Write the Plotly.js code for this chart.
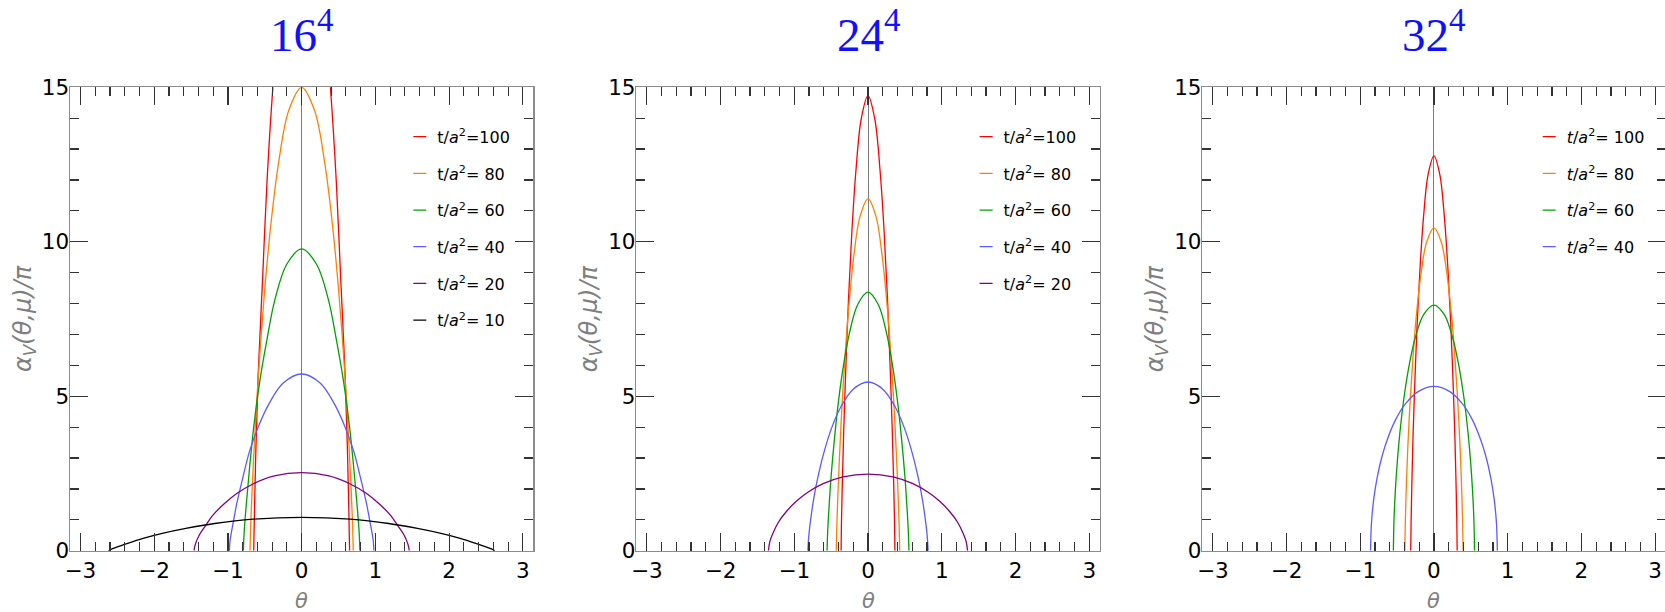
<!DOCTYPE html>
<html>
<head>
<meta charset="utf-8">
<script src="https://cdn.plot.ly/plotly-3.0.1.min.js"></script>
<style>
  html, body { margin: 0; padding: 0; overflow: hidden; background: #ffffff; }
  #chart { width: 1670px; height: 612px; }
</style>
</head>
<body>
<div id="chart"></div>
<script>
// Panel titles (lattice volumes)
const panelTitles = ['16<sup>4</sup>', '24<sup>4</sup>', '32<sup>4</sup>'];

// Flow times shown in each panel
const flowTimes16 = [100, 80, 60, 40, 20, 10];
const flowTimes24 = [100, 80, 60, 40, 20];
const flowTimes32 = [100, 80, 60, 40];

// Curve colours by flow time
const flowColors = { 100: '#ff0000', 80: '#ff8000', 60: '#00a000', 40: '#5b5bff', 20: '#800080', 10: '#000000' };

// ---- 16^4 ----
const theta16_t100 = [-0.65,-0.64,-0.62,-0.59,-0.53,-0.47,-0.39,-0.29,-0.16,0,0.16,0.29,0.39,0.47,0.53,0.59,0.62,0.64,0.65];
const alpha16_t100 = [0,1.29,3.33,5.68,8.78,11.94,15.0,17.88,20.35,21.43,20.35,17.88,15.0,11.94,8.78,5.68,3.33,1.29,0];
const theta16_t80 = [-0.70,-0.69,-0.665,-0.63,-0.574,-0.504,-0.42,-0.315,-0.175,0,0.175,0.315,0.42,0.504,0.574,0.63,0.665,0.69,0.70];
const alpha16_t80 = [0,0.90,2.33,3.97,6.14,8.36,10.50,12.52,14.25,15.0,14.25,12.52,10.50,8.36,6.14,3.97,2.33,0.90,0];
const theta16_t60 = [-0.79,-0.78,-0.75,-0.71,-0.65,-0.57,-0.47,-0.36,-0.20,0,0.20,0.36,0.47,0.57,0.65,0.71,0.75,0.78,0.79];
const alpha16_t60 = [0,0.59,1.52,2.59,4.00,5.45,6.84,8.15,9.28,9.77,9.28,8.15,6.84,5.45,4.00,2.59,1.52,0.59,0];
const theta16_t40 = [-0.98,-0.97,-0.93,-0.88,-0.80,-0.71,-0.59,-0.44,-0.25,0,0.25,0.44,0.59,0.71,0.80,0.88,0.93,0.97,0.98];
const alpha16_t40 = [0,0.34,0.89,1.52,2.34,3.19,4.00,4.77,5.43,5.72,5.43,4.77,4.00,3.19,2.34,1.52,0.89,0.34,0];
const theta16_t20 = [-1.46,-1.44,-1.39,-1.31,-1.20,-1.05,-0.88,-0.66,-0.37,0,0.37,0.66,0.88,1.05,1.20,1.31,1.39,1.44,1.46];
const alpha16_t20 = [0,0.22,0.50,0.79,1.16,1.52,1.85,2.16,2.42,2.53,2.42,2.16,1.85,1.52,1.16,0.79,0.50,0.22,0];
const theta16_t10 = [-2.62,-2.58,-2.49,-2.36,-2.15,-1.89,-1.57,-1.18,-0.66,0,0.66,1.18,1.57,1.89,2.15,2.36,2.49,2.58,2.62];
const alpha16_t10 = [0,0.05,0.13,0.24,0.40,0.56,0.72,0.88,1.02,1.08,1.02,0.88,0.72,0.56,0.40,0.24,0.13,0.05,0];

// ---- 24^4 ----
const theta24_t100 = [-0.365,-0.36,-0.347,-0.329,-0.299,-0.263,-0.219,-0.164,-0.091,0,0.091,0.164,0.219,0.263,0.299,0.329,0.347,0.36,0.365];
const alpha24_t100 = [0,0.89,2.29,3.90,6.03,8.21,10.31,12.29,13.99,14.73,13.99,12.29,10.31,8.21,6.03,3.90,2.29,0.89,0];
const theta24_t80 = [-0.43,-0.424,-0.409,-0.387,-0.353,-0.31,-0.258,-0.194,-0.108,0,0.108,0.194,0.258,0.31,0.353,0.387,0.409,0.424,0.43];
const alpha24_t80 = [0,0.69,1.77,3.02,4.66,6.35,7.97,9.50,10.82,11.39,10.82,9.50,7.97,6.35,4.66,3.02,1.77,0.69,0];
const theta24_t60 = [-0.555,-0.547,-0.527,-0.50,-0.455,-0.40,-0.333,-0.25,-0.139,0,0.139,0.25,0.333,0.40,0.455,0.50,0.527,0.547,0.555];
const alpha24_t60 = [0,0.60,1.46,2.41,3.62,4.84,5.99,7.06,7.97,8.37,7.97,7.06,5.99,4.84,3.62,2.41,1.46,0.60,0];
const theta24_t40 = [-0.815,-0.803,-0.774,-0.734,-0.668,-0.587,-0.489,-0.367,-0.204,0,0.204,0.367,0.489,0.587,0.668,0.734,0.774,0.803,0.815];
const alpha24_t40 = [0,0.47,1.07,1.71,2.50,3.27,4.00,4.66,5.22,5.46,5.22,4.66,4.00,3.27,2.50,1.71,1.07,0.47,0];
const theta24_t20 = [-1.35,-1.33,-1.28,-1.215,-1.107,-0.972,-0.81,-0.608,-0.338,0,0.338,0.608,0.81,0.972,1.107,1.215,1.28,1.33,1.35];
const alpha24_t20 = [0,0.30,0.61,0.92,1.27,1.60,1.90,2.17,2.39,2.48,2.39,2.17,1.90,1.60,1.27,0.92,0.61,0.30,0];

// ---- 32^4 ----
const theta32_t100 = [-0.315,-0.31,-0.299,-0.284,-0.258,-0.227,-0.189,-0.142,-0.079,0,0.079,0.142,0.189,0.227,0.258,0.284,0.299,0.31,0.315];
const alpha32_t100 = [0,0.92,2.23,3.68,5.53,7.39,9.14,10.78,12.18,12.78,12.18,10.78,9.14,7.39,5.53,3.68,2.23,0.92,0];
const theta32_t80 = [-0.395,-0.389,-0.375,-0.356,-0.324,-0.284,-0.237,-0.178,-0.099,0,0.099,0.178,0.237,0.284,0.324,0.356,0.375,0.389,0.395];
const alpha32_t80 = [0,0.89,2.05,3.27,4.79,6.27,7.65,8.92,9.99,10.45,9.99,8.92,7.65,6.27,4.79,3.27,2.05,0.89,0];
const theta32_t60 = [-0.55,-0.542,-0.523,-0.495,-0.451,-0.396,-0.33,-0.248,-0.138,0,0.138,0.248,0.33,0.396,0.451,0.495,0.523,0.542,0.55];
const alpha32_t60 = [0,0.97,1.97,2.94,4.07,5.13,6.08,6.94,7.65,7.95,7.65,6.94,6.08,5.13,4.07,2.94,1.97,0.97,0];
const theta32_t40 = [-0.86,-0.847,-0.817,-0.774,-0.705,-0.619,-0.516,-0.387,-0.215,0,0.215,0.387,0.516,0.619,0.705,0.774,0.817,0.847,0.86];
const alpha32_t40 = [0,0.92,1.66,2.32,3.05,3.69,4.26,4.75,5.15,5.32,5.15,4.75,4.26,3.69,3.05,2.32,1.66,0.92,0];

const panel16 = {
  100: [theta16_t100, alpha16_t100], 80: [theta16_t80, alpha16_t80], 60: [theta16_t60, alpha16_t60],
  40: [theta16_t40, alpha16_t40], 20: [theta16_t20, alpha16_t20], 10: [theta16_t10, alpha16_t10]
};
const panel24 = {
  100: [theta24_t100, alpha24_t100], 80: [theta24_t80, alpha24_t80], 60: [theta24_t60, alpha24_t60],
  40: [theta24_t40, alpha24_t40], 20: [theta24_t20, alpha24_t20]
};
const panel32 = {
  100: [theta32_t100, alpha32_t100], 80: [theta32_t80, alpha32_t80], 60: [theta32_t60, alpha32_t60],
  40: [theta32_t40, alpha32_t40]
};

function legendLabel(t, panelIdx) {
  if (panelIdx === 2) {
    return '<i>t</i>/<i>a</i><sup>2</sup>= ' + t;
  }
  const pad = t >= 100 ? '' : ' ';
  return 't/<i>a</i><sup>2</sup>=' + pad + t;
}

const panels = [
  { times: flowTimes16, curves: panel16 },
  { times: flowTimes24, curves: panel24 },
  { times: flowTimes32, curves: panel32 }
];

const traces = [];
panels.forEach((p, i) => {
  const sfx = i === 0 ? '' : String(i + 1);
  p.times.forEach(t => {
    const c = p.curves[t];
    traces.push({
      type: 'scatter', mode: 'lines',
      x: c[0], y: c[1],
      xaxis: 'x' + sfx, yaxis: 'y' + sfx,
      line: { color: flowColors[t], width: 1.3, shape: 'spline', smoothing: 1 },
      name: legendLabel(t, i),
      legend: 'legend' + sfx,
      legendgroup: 'p' + i + 't' + t,
      hoverinfo: 'skip'
    });
  });
});

const W = 1670, H = 612;
// plot-area pixel boxes
const boxes = [[70, 533.3], [636.3, 1099.7], [1202.3, 1665.6]];
const yTop = 87.3, yBot = 550.7;
const yDom = [1 - yBot / H, 1 - yTop / H];

const sansFont = 'DejaVu Sans, Verdana, sans-serif';
const tickFont = { family: sansFont, size: 21.5, color: '#000' };

function xAxis(i) {
  return {
    domain: [boxes[i][0] / W, boxes[i][1] / W],
    anchor: i === 0 ? 'y' : 'y' + (i + 1),
    range: [-Math.PI, Math.PI],
    tick0: 0, dtick: 1,
    ticks: 'inside', ticklen: 18, tickwidth: 1.2, tickcolor: '#333',
    minor: { dtick: 0.2, tick0: 0, ticks: 'inside', ticklen: 9, tickwidth: 1.2, tickcolor: '#333', showgrid: false },
    showline: true, linecolor: '#8c8c8c', linewidth: 1.5, mirror: 'ticks',
    showgrid: false, zeroline: true, zerolinecolor: '#7a7a7a', zerolinewidth: 1,
    tickfont: tickFont, fixedrange: true
  };
}
function yAxis(i) {
  return {
    domain: yDom,
    anchor: i === 0 ? 'x' : 'x' + (i + 1),
    range: [0, 15],
    tick0: 0, dtick: 5,
    ticks: 'inside', ticklen: 18, tickwidth: 1.2, tickcolor: '#333',
    minor: { dtick: 1, tick0: 0, ticks: 'inside', ticklen: 9, tickwidth: 1.2, tickcolor: '#333', showgrid: false },
    showline: true, linecolor: '#8c8c8c', linewidth: 1.5, mirror: 'ticks',
    showgrid: false, zeroline: false, ticklabelstandoff: -5,
    tickfont: tickFont, fixedrange: true
  };
}

function legendBox(px) {
  return {
    x: px / W, xanchor: 'left', xref: 'paper',
    y: 1 - 119.8 / H, yanchor: 'top', yref: 'paper',
    bgcolor: 'rgba(0,0,0,0)', borderwidth: 0,
    tracegroupgap: 12.87,
    font: { family: sansFont, size: 16, color: '#000' }
  };
}

const annotations = [];
boxes.forEach((b, i) => {
  const cx = (b[0] + b[1]) / 2;
  annotations.push({
    text: panelTitles[i], xref: 'paper', yref: 'paper',
    x: cx / W, y: 1 - 31 / H, xanchor: 'center', yanchor: 'middle', showarrow: false,
    font: { family: 'Liberation Serif, Times New Roman, serif', size: 47, color: '#1010ff' }
  });
  annotations.push({
    text: '<i>θ</i>', xref: 'paper', yref: 'paper',
    x: cx / W, y: 1 - 601 / H, xanchor: 'center', yanchor: 'middle', showarrow: false,
    font: { family: sansFont, size: 21, color: '#7f7f7f' }
  });
  annotations.push({
    text: '<i>α<sub>V</sub>(θ,μ)/π</i>', xref: 'paper', yref: 'paper', textangle: -90,
    x: (b[0] - 46) / W, y: 1 - 319 / H, xanchor: 'center', yanchor: 'middle', showarrow: false,
    font: { family: sansFont, size: 24, color: '#7f7f7f' }
  });
});

const layout = {
  width: W, height: H,
  margin: { l: 0, r: 0, t: 0, b: 0, pad: 0 },
  paper_bgcolor: '#ffffff', plot_bgcolor: '#ffffff',
  showlegend: true,
  xaxis: xAxis(0), yaxis: yAxis(0),
  xaxis2: xAxis(1), yaxis2: yAxis(1),
  xaxis3: xAxis(2), yaxis3: yAxis(2),
  legend: legendBox(397.3),
  legend2: legendBox(963.6),
  legend3: legendBox(1526.7),
  annotations: annotations
};

Plotly.newPlot('chart', traces, layout, { staticPlot: true, displayModeBar: false }).then(gd => {
  // short legend strokes
  gd.querySelectorAll('.legendlines path').forEach(p => p.setAttribute('d', 'M16,0h13'));
});
</script>
</body>
</html>
